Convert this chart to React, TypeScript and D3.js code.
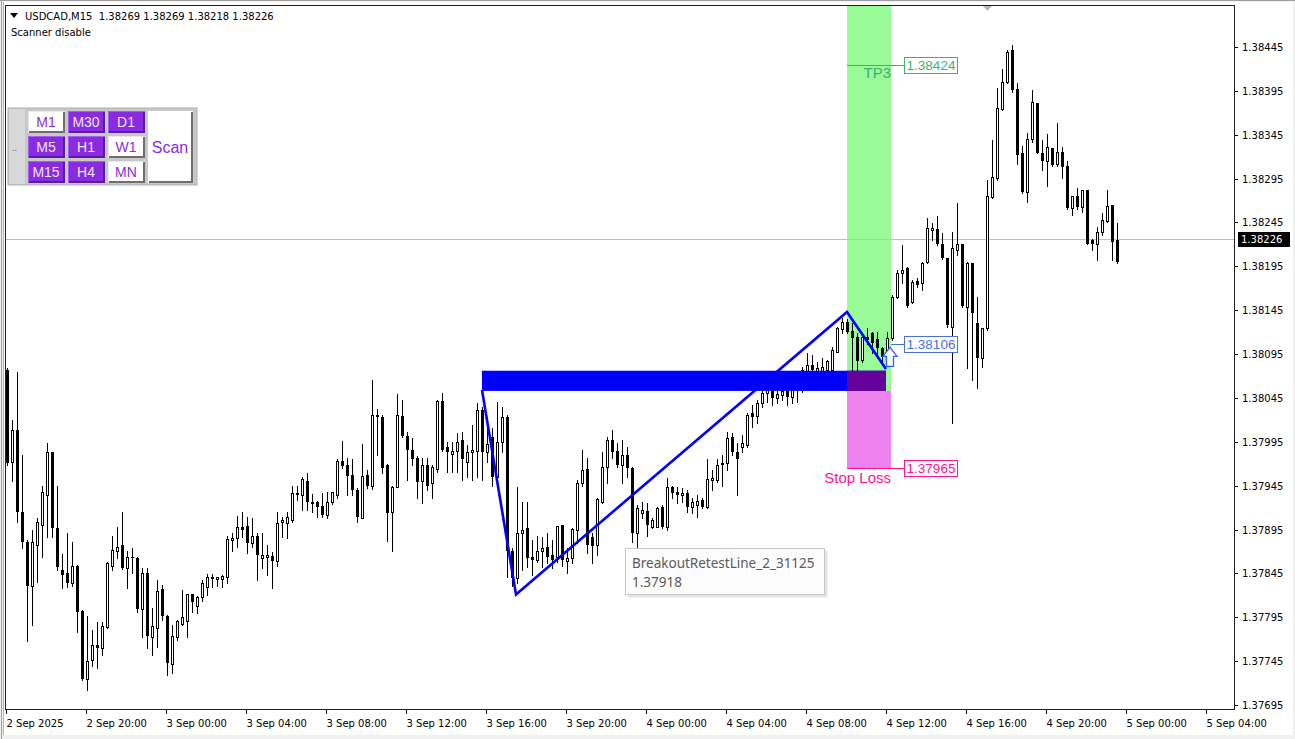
import * as d3 from "d3";

// USDCAD M15 bars, 2 Sep 16:00 .. 4 Sep 23:30
const opens = [
  1.38077,1.37972,1.38008,1.37915,1.37881,1.37831,1.37877,1.37900,1.37934,1.37983,
  1.37897,1.37849,1.37846,1.37834,1.37854,1.37802,1.37725,1.37746,1.37763,1.37760,
  1.37784,1.37853,1.37870,1.37877,1.37851,1.37864,1.37863,1.37804,1.37846,1.37773,
  1.37783,1.37827,1.37797,1.37742,1.37773,1.37787,1.37791,1.37821,1.37808,1.37818,
  1.37830,1.37841,1.37839,1.37839,1.37841,1.37883,1.37885,1.37898,1.37899,1.37880,
  1.37888,1.37863,1.37864,1.37865,1.37859,1.37904,1.37903,1.37906,1.37937,1.37934,
  1.37950,1.37926,1.37926,1.37922,1.37911,1.37926,1.37934,1.37973,1.37968,1.37957,
  1.37940,1.37908,1.37957,1.37945,1.38024,1.38023,1.37968,1.37915,1.37944,1.38024,
  1.38002,1.37986,1.37976,1.37950,1.37968,1.37948,1.37964,1.38042,1.37989,1.37981,
  1.37984,1.37997,1.37972,1.37983,1.37984,1.38031,1.37983,1.38000,1.37955,1.37995,
  1.38023,1.37870,1.37840,1.37891,1.37897,1.37864,1.37860,1.37871,1.37875,1.37866,
  1.37864,1.37900,1.37859,1.37862,1.37894,1.37948,1.37964,1.37886,1.37877,1.37926,
  1.37966,1.37997,1.37984,1.37968,1.37980,1.37965,1.37891,1.37914,1.37916,1.37898,
  1.37898,1.37921,1.37898,1.37943,1.37938,1.37934,1.37937,1.37921,1.37923,1.37929,
  1.37921,1.37951,1.37951,1.37970,1.37971,1.38000,1.37983,1.37989,1.37991,1.38028,
  1.38024,1.38039,1.38051,1.38060,1.38045,1.38048,1.38054,1.38046,1.38062,1.38054,
  1.38071,1.38082,1.38076,1.38076,1.38077,1.38077,1.38097,1.38124,1.38131,1.38121,
  1.38114,1.38088,1.38114,1.38119,1.38112,1.38102,1.38092,1.38113,1.38160,1.38187,
  1.38193,1.38154,1.38178,1.38176,1.38200,1.38236,1.38238,1.38221,1.38204,1.38126,
  1.38214,1.38221,1.38149,1.38199,1.38130,1.38090,1.38125,1.38274,1.38296,1.38374,
  1.38405,1.38442,1.38397,1.38324,1.38280,1.38340,1.38381,1.38324,1.38315,1.38330,
  1.38312,1.38325,1.38309,1.38261,1.38275,1.38263,1.38282,1.38225,1.38221,1.38234,
  1.38247,1.38265,1.38225,
];
const highs = [
  1.38079,1.38020,1.38075,1.37980,1.37883,1.37894,1.37908,1.37945,1.37994,1.37983,
  1.37945,1.37867,1.37891,1.37881,1.37855,1.37803,1.37797,1.37780,1.37790,1.37790,
  1.37858,1.37888,1.37898,1.37915,1.37870,1.37874,1.37864,1.37851,1.37851,1.37806,
  1.37837,1.37832,1.37798,1.37786,1.37792,1.37826,1.37821,1.37822,1.37819,1.37837,
  1.37844,1.37844,1.37841,1.37843,1.37888,1.37891,1.37910,1.37915,1.37909,1.37908,
  1.37891,1.37891,1.37877,1.37869,1.37915,1.37909,1.37915,1.37945,1.37945,1.37955,
  1.37960,1.37935,1.37927,1.37937,1.37938,1.37938,1.37975,1.37996,1.37977,1.37975,
  1.37942,1.37992,1.37963,1.38065,1.38032,1.38025,1.37970,1.37945,1.38049,1.38043,
  1.38006,1.37999,1.37979,1.37976,1.37977,1.37968,1.38043,1.38051,1.37995,1.37995,
  1.38005,1.38006,1.37991,1.38014,1.38039,1.38035,1.38023,1.38011,1.38040,1.38035,
  1.38025,1.37874,1.37943,1.37926,1.37926,1.37883,1.37888,1.37886,1.37891,1.37883,
  1.37899,1.37900,1.37874,1.37897,1.37951,1.37986,1.37976,1.37891,1.37931,1.37983,
  1.38000,1.38009,1.37994,1.37997,1.37989,1.37966,1.37923,1.37926,1.37925,1.37908,
  1.37921,1.37923,1.37954,1.37945,1.37943,1.37942,1.37940,1.37931,1.37934,1.37931,
  1.37975,1.37963,1.37975,1.37980,1.38006,1.38005,1.37994,1.38003,1.38028,1.38037,
  1.38043,1.38057,1.38062,1.38062,1.38054,1.38060,1.38060,1.38062,1.38065,1.38080,
  1.38096,1.38094,1.38086,1.38091,1.38088,1.38103,1.38126,1.38136,1.38135,1.38130,
  1.38119,1.38114,1.38125,1.38120,1.38120,1.38103,1.38120,1.38162,1.38191,1.38219,
  1.38194,1.38179,1.38182,1.38200,1.38250,1.38244,1.38252,1.38233,1.38204,1.38234,
  1.38267,1.38221,1.38200,1.38199,1.38160,1.38125,1.38293,1.38339,1.38398,1.38420,
  1.38442,1.38447,1.38404,1.38332,1.38347,1.38396,1.38381,1.38339,1.38346,1.38330,
  1.38358,1.38331,1.38315,1.38275,1.38284,1.38282,1.38282,1.38226,1.38240,1.38256,
  1.38282,1.38265,1.38244,
];
const lows = [
  1.37968,1.37950,1.37904,1.37874,1.37768,1.37786,1.37835,1.37864,1.37886,1.37886,
  1.37849,1.37828,1.37829,1.37831,1.37778,1.37723,1.37712,1.37740,1.37737,1.37752,
  1.37783,1.37849,1.37863,1.37850,1.37828,1.37846,1.37801,1.37772,1.37760,1.37752,
  1.37761,1.37792,1.37729,1.37731,1.37769,1.37786,1.37772,1.37801,1.37800,1.37813,
  1.37820,1.37830,1.37831,1.37830,1.37834,1.37870,1.37875,1.37886,1.37868,1.37875,
  1.37838,1.37851,1.37843,1.37828,1.37854,1.37886,1.37885,1.37904,1.37929,1.37917,
  1.37917,1.37915,1.37909,1.37909,1.37908,1.37924,1.37931,1.37965,1.37934,1.37934,
  1.37904,1.37908,1.37942,1.37941,1.37980,1.37960,1.37882,1.37870,1.37943,1.38000,
  1.37952,1.37968,1.37931,1.37925,1.37940,1.37931,1.37961,1.37984,1.37961,1.37961,
  1.37961,1.37952,1.37955,1.37952,1.37955,1.37952,1.37972,1.37945,1.37950,1.37983,
  1.37841,1.37831,1.37834,1.37849,1.37852,1.37843,1.37858,1.37852,1.37857,1.37851,
  1.37858,1.37854,1.37846,1.37857,1.37880,1.37945,1.37868,1.37857,1.37866,1.37925,
  1.37948,1.37977,1.37966,1.37948,1.37955,1.37881,1.37868,1.37908,1.37888,1.37897,
  1.37898,1.37897,1.37894,1.37931,1.37925,1.37926,1.37915,1.37914,1.37909,1.37920,
  1.37920,1.37940,1.37949,1.37945,1.37963,1.37980,1.37934,1.37983,1.37989,1.38012,
  1.38016,1.38035,1.38040,1.38037,1.38039,1.38043,1.38037,1.38039,1.38040,1.38052,
  1.38068,1.38075,1.38068,1.38069,1.38057,1.38075,1.38097,1.38119,1.38119,1.38077,
  1.38077,1.38086,1.38107,1.38096,1.38092,1.38082,1.38086,1.38111,1.38159,1.38176,
  1.38149,1.38153,1.38171,1.38168,1.38199,1.38225,1.38219,1.38203,1.38126,1.38016,
  1.38208,1.38149,1.38079,1.38065,1.38056,1.38080,1.38122,1.38273,1.38293,1.38373,
  1.38404,1.38394,1.38312,1.38279,1.38268,1.38337,1.38324,1.38305,1.38287,1.38309,
  1.38309,1.38296,1.38260,1.38253,1.38260,1.38257,1.38221,1.38214,1.38202,1.38231,
  1.38246,1.38202,1.38199,
];
const closes = [
  1.37971,1.38008,1.37915,1.37881,1.37831,1.37881,1.37904,1.37938,1.37983,1.37897,
  1.37852,1.37843,1.37834,1.37854,1.37801,1.37725,1.37745,1.37763,1.37760,1.37785,
  1.37857,1.37872,1.37875,1.37851,1.37864,1.37862,1.37804,1.37846,1.37774,1.37785,
  1.37825,1.37796,1.37743,1.37774,1.37791,1.37795,1.37821,1.37812,1.37818,1.37834,
  1.37841,1.37839,1.37841,1.37842,1.37884,1.37885,1.37898,1.37894,1.37880,1.37888,
  1.37866,1.37866,1.37866,1.37859,1.37903,1.37906,1.37909,1.37937,1.37934,1.37953,
  1.37926,1.37924,1.37921,1.37912,1.37926,1.37938,1.37973,1.37967,1.37956,1.37940,
  1.37909,1.37956,1.37945,1.38025,1.38025,1.37965,1.37914,1.37943,1.38025,1.38002,
  1.37986,1.37975,1.37949,1.37968,1.37945,1.37966,1.38042,1.37986,1.37983,1.37985,
  1.37995,1.37975,1.37983,1.37986,1.38031,1.37983,1.37992,1.37955,1.37995,1.38023,
  1.37870,1.37840,1.37891,1.37894,1.37863,1.37860,1.37870,1.37874,1.37864,1.37860,
  1.37899,1.37860,1.37863,1.37896,1.37948,1.37963,1.37877,1.37876,1.37930,1.37966,
  1.37997,1.37983,1.37968,1.37980,1.37965,1.37891,1.37920,1.37917,1.37900,1.37906,
  1.37920,1.37898,1.37943,1.37937,1.37934,1.37937,1.37921,1.37926,1.37927,1.37921,
  1.37953,1.37954,1.37968,1.37971,1.37999,1.37983,1.37975,1.37994,1.38025,1.38023,
  1.38039,1.38051,1.38061,1.38045,1.38050,1.38053,1.38046,1.38062,1.38054,1.38077,
  1.38082,1.38077,1.38079,1.38080,1.38087,1.38100,1.38125,1.38131,1.38120,1.38113,
  1.38087,1.38114,1.38111,1.38108,1.38102,1.38092,1.38113,1.38160,1.38187,1.38191,
  1.38150,1.38177,1.38174,1.38199,1.38239,1.38239,1.38221,1.38204,1.38128,1.38216,
  1.38221,1.38150,1.38199,1.38142,1.38090,1.38125,1.38275,1.38297,1.38375,1.38405,
  1.38439,1.38396,1.38322,1.38280,1.38340,1.38382,1.38324,1.38315,1.38331,1.38310,
  1.38325,1.38308,1.38261,1.38275,1.38263,1.38282,1.38221,1.38221,1.38234,1.38248,
  1.38264,1.38223,1.38200,
];

const priceTicks = [
  1.38445, 1.38395, 1.38345, 1.38295, 1.38245, 1.38195, 1.38145, 1.38095,
  1.38045, 1.37995, 1.37945, 1.37895, 1.37845, 1.37795, 1.37745, 1.37695,
];
const timeLabels = [
  "2 Sep 2025", "2 Sep 20:00", "3 Sep 00:00", "3 Sep 04:00", "3 Sep 08:00",
  "3 Sep 12:00", "3 Sep 16:00", "3 Sep 20:00", "4 Sep 00:00", "4 Sep 04:00",
  "4 Sep 08:00", "4 Sep 12:00", "4 Sep 16:00", "4 Sep 20:00", "5 Sep 00:00",
  "5 Sep 04:00",
];
const barsPerLabel = 16;

// breakout zone + trade objects (bar index / price)
const zoneBars = [95, 175.8];
const zonePrices = [1.38053, 1.38076];
const tradeBars = [168, 176.8];
const tp3 = 1.38424;
const entry = 1.38106;
const stopLoss = 1.37965;
const lastPrice = 1.38226;
const zigzagBars = [95, 101.8, 168, 175.8];
const zigzagPrices = [1.38054, 1.37821, 1.38143, 1.38078];
const tooltipLines = ["BreakoutRetestLine_2_31125", "1.37918"];
const header = "USDCAD,M15  1.38269 1.38269 1.38218 1.38226";
const buttons = [
  ["M1", "M30", "D1"],
  ["M5", "H1", "W1"],
  ["M15", "H4", "MN"],
];
const activeButtons = ["M30", "D1", "M5", "H1", "M15", "H4"];

const W = 1295;
const H = 739;
const plot = { left: 5, top: 5, right: 1234, bottom: 709 };
const axisFont = "'DejaVu Sans', Tahoma, sans-serif";
const labelFont = "'Liberation Sans', Arial, sans-serif";

export default function App() {
  const x = d3.scaleLinear().domain([0, 1]).range([7, 12]);
  const y = d3.scaleLinear().domain([1.37695, 1.38445]).range([705, 47]);
  const fmt = d3.format(".5f");

  const bars = d3.range(opens.length).map((i) => ({
    i,
    o: opens[i],
    h: highs[i],
    l: lows[i],
    c: closes[i],
  }));

  const zigzag = d3
    .line<number>()
    .x((_, k) => x(zigzagBars[k]))
    .y((p) => y(p))(zigzagPrices);

  const tradeL = x(tradeBars[0]);
  const tradeR = x(tradeBars[1]);
  const boxX = 904.5;
  const boxW = 53;

  const priceBox = (price: number, color: string, lineFrom: number) => {
    const py = Math.round(y(price)) + 0.5;
    return (
      <g>
        <line x1={lineFrom} x2={boxX} y1={py} y2={py} stroke={color} strokeWidth={1} />
        <rect x={boxX} y={py - 8} width={boxW} height={16} fill="#fff" stroke={color} strokeWidth={1} />
        <text x={boxX + boxW / 2} y={py + 4.5} textAnchor="middle" fontFamily={labelFont} fontSize={13.5} fill={color}>
          {fmt(price)}
        </text>
      </g>
    );
  };

  const entryX = x(176.6);
  const ay = y(entry) + 3;
  const arrow = `M${entryX},${ay} L${entryX + 7},${ay + 9} L${entryX + 3.5},${ay + 9} L${entryX + 3.5},${ay + 19} L${entryX - 3.5},${ay + 19} L${entryX - 3.5},${ay + 9} L${entryX - 7},${ay + 9} Z`;

  const colX = [28, 68, 108];
  const rowY = [111, 136, 161];

  return (
    <svg width={W} height={H} style={{ position: "absolute", left: 0, top: 0 }}>
      <defs>
        <clipPath id="plotClip">
          <rect x={plot.left + 1} y={plot.top + 1} width={plot.right - plot.left - 1} height={plot.bottom - plot.top - 1} />
        </clipPath>
      </defs>
      <rect width={W} height={H} fill="#f0f0f0" />
      <rect x={3} y={2} width={W - 5} height={H - 6} fill="#fff" />
      <line x1={0} x2={W} y1={0.5} y2={0.5} stroke="#a0a0a0" />
      <line x1={1.5} x2={1.5} y1={0} y2={H} stroke="#a0a0a0" />
      <line x1={3.5} x2={3.5} y1={2} y2={H - 4} stroke="#b4b4b4" />

      <g clipPath="url(#plotClip)">
        {/* trade rectangles (background) */}
        <rect x={tradeL} y={plot.top} width={tradeR - tradeL} height={y(zonePrices[0]) - plot.top} fill="#98fb98" />
        <rect x={tradeL} y={y(zonePrices[0])} width={tradeR - tradeL} height={y(stopLoss) - y(zonePrices[0])} fill="#ee82ee" />

        <line x1={plot.left} x2={plot.right} y1={Math.round(y(lastPrice)) + 0.5} y2={Math.round(y(lastPrice)) + 0.5} stroke="#c0c0c0" />

        <g shapeRendering="crispEdges">
          {bars.map((b) => {
            const cx = Math.round(x(b.i));
            const yo = Math.round(y(b.o));
            const yc = Math.round(y(b.c));
            const bull = b.c > b.o;
            return (
              <g key={b.i}>
                <line x1={cx + 0.5} x2={cx + 0.5} y1={Math.round(y(b.h))} y2={Math.round(y(b.l)) + 1} stroke="#000" />
                {bull ? (
                  <rect x={cx - 0.5} y={yc + 0.5} width={2} height={Math.max(yo - yc, 1)} fill="#fff" stroke="#000" />
                ) : (
                  <rect x={cx - 1} y={yo} width={3} height={Math.max(yc - yo, 1)} fill="#000" />
                )}
              </g>
            );
          })}
        </g>

        {/* breakout zone */}
        <rect x={x(zoneBars[0])} y={y(zonePrices[1])} width={x(zoneBars[1]) - x(zoneBars[0])} height={y(zonePrices[0]) - y(zonePrices[1])} fill="#0000ff" />
        <rect x={tradeL} y={y(zonePrices[1])} width={x(zoneBars[1]) - tradeL} height={y(zonePrices[0]) - y(zonePrices[1])} fill="#66009a" />

        <path d={zigzag ?? ""} fill="none" stroke="#0000ff" strokeWidth={2.6} strokeLinejoin="miter" />

        <path d={arrow} fill="#fff" stroke="#2f5cff" strokeWidth={1.3} />
      </g>

      {priceBox(tp3, "#3cb371", tradeL)}
      <text x={tradeR} y={y(tp3) + 13} textAnchor="end" fontFamily={labelFont} fontSize={15} fill="#3fae6f">TP3</text>
      {priceBox(entry, "#4a6fe3", tradeR)}
      {priceBox(stopLoss, "#ff1493", tradeL)}
      <text x={tradeR} y={y(stopLoss) + 15} textAnchor="end" fontFamily={labelFont} fontSize={15} fill="#ff1493">Stop Loss</text>

      {/* shift marker */}
      <path d="M982,5 L993,5 L987.5,11 Z" fill="#b8b8b8" />

      {/* frame and axes */}
      <rect x={plot.left + 0.5} y={plot.top + 0.5} width={plot.right - plot.left} height={plot.bottom - plot.top} fill="none" stroke="#202020" />
      {priceTicks.map((p) => {
        const py = Math.round(y(p)) + 0.5;
        return (
          <g key={p}>
            <line x1={plot.right + 1} x2={plot.right + 4} y1={py} y2={py} stroke="#000" />
            <text x={1242} y={py + 3.5} fontFamily={axisFont} fontSize={10} fill="#000">{fmt(p)}</text>
          </g>
        );
      })}
      {timeLabels.map((t, k) => {
        const tx = Math.round(x(k * barsPerLabel)) - 0.5;
        return (
          <g key={t}>
            <line x1={tx} x2={tx} y1={plot.bottom + 1} y2={plot.bottom + 5} stroke="#000" />
            <text x={tx} y={727} fontFamily={axisFont} fontSize={10} fill="#000">{t}</text>
          </g>
        );
      })}

      {/* last price label */}
      <rect x={1238} y={Math.round(y(lastPrice)) - 7} width={52} height={15} fill="#000" />
      <text x={1241} y={Math.round(y(lastPrice)) + 4} fontFamily={axisFont} fontSize={10} fill="#fff">{fmt(lastPrice)}</text>

      {/* header */}
      <path d="M10,13 L18,13 L14,18 Z" fill="#000" />
      <text x={25} y={20} fontFamily={axisFont} fontSize={10} fill="#000" style={{ whiteSpace: "pre" }}>{header}</text>
      <text x={11} y={36} fontFamily={axisFont} fontSize={10} fill="#000">Scanner disable</text>

      {/* timeframe scanner panel */}
      <rect x={8} y={108} width={189} height={77} fill="#c8c8c8" stroke="#b0b0b0" />
      <rect x={9} y={109} width={16} height={75} fill="#d8d8d8" />
      <text x={12} y={151} fontFamily={axisFont} fontSize={8} fill="#555">..</text>
      {buttons.map((row, r) =>
        row.map((label, c) => {
          const on = activeButtons.includes(label);
          const bx = colX[c];
          const by = rowY[r];
          return (
            <g key={label}>
              <rect x={bx} y={by} width={37} height={22} fill={on ? "#8a2be2" : "#fff"} />
              <path d={`M${bx + 0.5},${by + 22} L${bx + 0.5},${by + 0.5} L${bx + 37},${by + 0.5}`} fill="none" stroke={on ? "#a35ef0" : "#e8e8e8"} />
              <path d={`M${bx + 36},${by + 1} L${bx + 36},${by + 21} L${bx + 1},${by + 21}`} fill="none" stroke={on ? "#5c1a9e" : "#6e6e6e"} strokeWidth={2} />
              <text x={bx + 18} y={by + 16} textAnchor="middle" fontFamily={labelFont} fontSize={14} fill={on ? "#efe6ff" : "#8a2be2"}>
                {label}
              </text>
            </g>
          );
        })
      )}
      <rect x={148} y={111} width={45} height={72} fill="#fff" />
      <path d="M192,112 L192,182 L149,182" fill="none" stroke="#6e6e6e" strokeWidth={2} />
      <text x={170} y={153} textAnchor="middle" fontFamily={labelFont} fontSize={16} fill="#8a2be2">Scan</text>

      {/* tooltip */}
      <rect x={627.5} y={550.5} width={200} height={47} fill="#e4e4e4" />
      <rect x={625.5} y={548.5} width={199} height={46} fill="#fcfcfc" stroke="#c8c8c8" />
      {tooltipLines.map((t, k) => (
        <text key={t} x={632} y={568 + k * 19} fontFamily="'Noto Sans', 'Open Sans', sans-serif" fontSize={13.5} fill="#5a5a5a">
          {t}
        </text>
      ))}
    </svg>
  );
}
